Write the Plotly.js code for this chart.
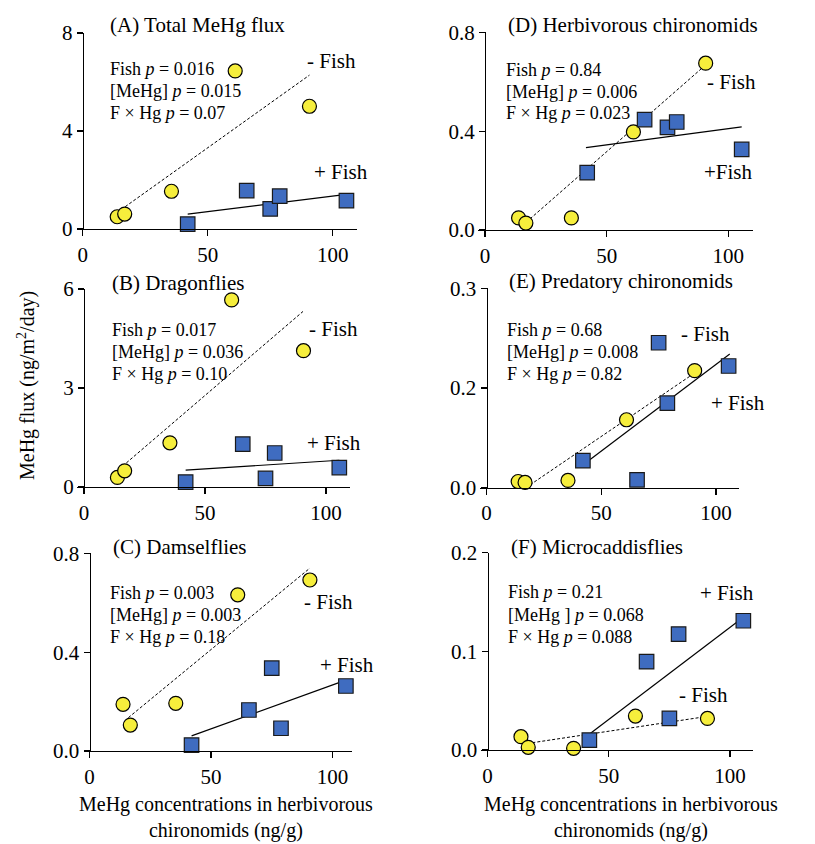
<!DOCTYPE html>
<html>
<head>
<meta charset="utf-8">
<script src="https://cdn.plot.ly/plotly-3.0.1.min.js"></script>
<style>html,body{margin:0;padding:0;background:#fff;}#chart{width:815px;height:844px;}</style>
</head>
<body>
<div id="chart"></div>
<script>
// ---- Data ----
const xNoFish = [13.8, 16.8, 35.5, 61.0, 90.7];   // MeHg in herbivorous chironomids, - Fish
const xFish   = [42.0, 65.6, 75.0, 78.8, 105.5];  // MeHg in herbivorous chironomids, + Fish

const yA_noFish = [0.50, 0.61, 1.54, 6.45, 5.01];
const yA_fish   = [0.20, 1.57, 0.82, 1.34, 1.16];
const fitXA_noFish = [17.0, 90.7], fitYA_noFish = [0.91, 6.28];
const fitXA_fish   = [42.0, 105.5], fitYA_fish  = [0.61, 1.41];

const yB_noFish = [0.29, 0.49, 1.34, 5.67, 4.13];
const yB_fish   = [0.15, 1.30, 0.26, 1.03, 0.59];
const fitXB_noFish = [17.5, 90.5], fitYB_noFish = [0.73, 5.32];
const fitXB_fish   = [42.0, 105.5], fitYB_fish  = [0.51, 0.81];

const yC_noFish = [0.189, 0.105, 0.193, 0.632, 0.692];
const yC_fish   = [0.024, 0.166, 0.335, 0.092, 0.263];
const fitXC_noFish = [16.0, 90.7], fitYC_noFish = [0.135, 0.74];
const fitXC_fish   = [42.0, 105.5], fitYC_fish  = [0.061, 0.287];

const yD_noFish = [0.049, 0.028, 0.049, 0.397, 0.675];
const yD_fish   = [0.232, 0.447, 0.415, 0.437, 0.326];
const fitXD_noFish = [18.5, 90.7], fitYD_noFish = [0.045, 0.668];
const fitXD_fish   = [41.5, 105.5], fitYD_fish  = [0.333, 0.417];

const yE_noFish = [0.009, 0.0076, 0.0106, 0.102, 0.176];
const yE_fish   = [0.0405, 0.0116, 0.218, 0.127, 0.183];
const fitXE_noFish = [19.0, 90.5], fitYE_noFish = [0.004, 0.172];
const fitXE_fish   = [42.0, 106.0], fitYE_fish  = [0.034, 0.201];

const yF_noFish = [0.0135, 0.0027, 0.0017, 0.0344, 0.032];
const yF_fish   = [0.0101, 0.0895, 0.032, 0.1175, 0.131];
const fitXF_noFish = [18.5, 90.5], fitYF_noFish = [0.0074, 0.034];
const fitXF_fish   = [42.5, 105.5], fitYF_fish  = [0.0169, 0.1345];

// tick labels
const xTickVals = [0, 50, 100];
const yTicksA = [0, 4, 8],       yTextA = ["0", "4", "8"];
const yTicksB = [0, 3, 6],       yTextB = ["0", "3", "6"];
const yTicksC = [0, 0.4, 0.8],   yTextC = ["0.0", "0.4", "0.8"];
const yTicksD = [0, 0.4, 0.8],   yTextD = ["0.0", "0.4", "0.8"];
const yTicksE = [0, 0.15, 0.3],  yTextE = ["0.0", "0.2", "0.3"];
const yTicksF = [0, 0.1, 0.2],   yTextF = ["0.0", "0.1", "0.2"];

const titles = ["(A) Total MeHg flux", "(B) Dragonflies", "(C) Damselflies",
                "(D) Herbivorous chironomids", "(E) Predatory chironomids", "(F) Microcaddisflies"];
const statsA = ["Fish <i>p</i> = 0.016", "[MeHg] <i>p</i> = 0.015", "F × Hg <i>p</i> = 0.07"];
const statsB = ["Fish <i>p</i> = 0.017", "[MeHg] <i>p</i> = 0.036", "F × Hg <i>p</i> = 0.10"];
const statsC = ["Fish <i>p</i> = 0.003", "[MeHg] <i>p</i> = 0.003", "F × Hg <i>p</i> = 0.18"];
const statsD = ["Fish <i>p</i> = 0.84", "[MeHg] <i>p</i> = 0.006", "F × Hg <i>p</i> = 0.023"];
const statsE = ["Fish <i>p</i> = 0.68", "[MeHg] <i>p</i> = 0.008", "F × Hg <i>p</i> = 0.82"];
const statsF = ["Fish <i>p</i> = 0.21", "[MeHg ] <i>p</i> = 0.068", "F × Hg <i>p</i> = 0.088"];

// ---- Layout geometry (pixels) ----
const W = 815, H = 844;
const FONT = "'Liberation Serif', 'Times New Roman', Times, serif";
const px = v => v / W, py = v => 1 - v / H;

const panels = [
  {id:"A", yMax:8,   yt:yTicksA, ytx:yTextA, yn:yA_noFish, yf:yA_fish, fxn:fitXA_noFish, fyn:fitYA_noFish, fxf:fitXA_fish, fyf:fitYA_fish, stats:statsA,
   l:77.3, r:357.3, t:33, b:229, x0:82.7, x100:332.7,
   title:[108,25], st:[107.5,69,91,113], minus:[305,61,"- Fish"], plus:[311.5,172,"+ Fish"]},
  {id:"B", yMax:6,   yt:yTicksB, ytx:yTextB, yn:yB_noFish, yf:yB_fish, fxn:fitXB_noFish, fyn:fitYB_noFish, fxf:fitXB_fish, fyf:fitYB_fish, stats:statsB,
   l:77.3, r:350, t:289, b:487, x0:84, x100:326,
   title:[110,283], st:[110,330,351.7,374], minus:[306.5,329,"- Fish"], plus:[305,442.7,"+ Fish"]},
  {id:"C", yMax:0.8, yt:yTicksC, ytx:yTextC, yn:yC_noFish, yf:yC_fish, fxn:fitXC_noFish, fyn:fitYC_noFish, fxf:fitXC_fish, fyf:fitYC_fish, stats:statsC,
   l:84.5, r:352, t:553.3, b:751, x0:89.5, x100:332.5,
   title:[111,546.7], st:[108.3,593.3,615,637.3], minus:[301.7,601.7,"- Fish"], plus:[318.3,665,"+ Fish"]},
  {id:"D", yMax:0.8, yt:yTicksD, ytx:yTextD, yn:yD_noFish, yf:yD_fish, fxn:fitXD_noFish, fyn:fitYD_noFish, fxf:fitXD_fish, fyf:fitYD_fish, stats:statsD,
   l:478.3, r:752.7, t:32.3, b:230, x0:485, x100:728.3,
   title:[506,25], st:[504.3,70,91.7,113.3], minus:[705,82,"- Fish"], plus:[701.7,171.7,"+Fish"]},
  {id:"E", yMax:0.3, yt:yTicksE, ytx:yTextE, yn:yE_noFish, yf:yE_fish, fxn:fitXE_noFish, fyn:fitYE_noFish, fxf:fitXE_fish, fyf:fitYE_fish, stats:statsE,
   l:480, r:738.7, t:288.3, b:487.5, x0:486.5, x100:716,
   title:[506.7,281], st:[505,330,351.7,374], minus:[679.3,334.3,"- Fish"], plus:[709.3,403.3,"+ Fish"]},
  {id:"F", yMax:0.2, yt:yTicksF, ytx:yTextF, yn:yF_noFish, yf:yF_fish, fxn:fitXF_noFish, fyn:fitYF_noFish, fxf:fitXF_fish, fyf:fitYF_fish, stats:statsF,
   l:481, r:752.7, t:552.7, b:750, x0:487.5, x100:730,
   title:[509.3,546.7], st:[506,592.3,615,636.7], minus:[676.7,695,"- Fish"], plus:[697.7,593.3,"+ Fish"]}
];
const titleIdx = {A:0,B:1,C:2,D:3,E:4,F:5};

const data = [];
const layout = {
  width: W, height: H,
  margin: {l:0, r:0, t:0, b:0},
  paper_bgcolor: "#fff", plot_bgcolor: "rgba(0,0,0,0)",
  showlegend: false,
  font: {family: FONT, color: "#000", size: 21},
  annotations: []
};

const yellow = "#F6EE3C", blue = "#3F6CC0";

panels.forEach((p, i) => {
  const n = i + 1;
  const xa = "x" + (n === 1 ? "" : n), ya = "y" + (n === 1 ? "" : n);
  const xk = "xaxis" + (n === 1 ? "" : n), yk = "yaxis" + (n === 1 ? "" : n);
  const sc = (p.x100 - p.x0) / 100;
  const xr = [(p.l - p.x0) / sc, (p.r - p.x0) / sc];
  layout[xk] = {
    domain: [px(p.l), px(p.r)], range: xr, anchor: ya,
    showline: true, linecolor: "#000", linewidth: 1.3,
    ticks: "outside", ticklen: 6, tickwidth: 1.3, tickcolor: "#000",
    tickvals: xTickVals, ticktext: xTickVals.map(String),
    showgrid: false, zeroline: false, fixedrange: true,
    tickfont: {family: FONT, size: 21, color: "#000"}
  };
  layout[yk] = {
    domain: [py(p.b), py(p.t)], range: [0, p.yMax], anchor: "free", position: px(p.x0),
    showline: true, linecolor: "#000", linewidth: 1.3,
    ticks: "outside", ticklen: 6, tickwidth: 1.3, tickcolor: "#000",
    tickvals: p.yt, ticktext: p.ytx,
    showgrid: false, zeroline: false, fixedrange: true,
    tickfont: {family: FONT, size: 21, color: "#000"}
  };
  // regression lines
  data.push({type:"scatter", mode:"lines", x:p.fxn, y:p.fyn, xaxis:xa, yaxis:ya,
             line:{color:"#000", width:1, dash:"3px,2px"}, hoverinfo:"skip"});
  data.push({type:"scatter", mode:"lines", x:p.fxf, y:p.fyf, xaxis:xa, yaxis:ya,
             line:{color:"#000", width:1.2}, hoverinfo:"skip"});
  // points
  data.push({type:"scatter", mode:"markers", x:xNoFish, y:p.yn, xaxis:xa, yaxis:ya, cliponaxis:false,
             marker:{symbol:"circle", size:14, color:yellow, line:{color:"#000", width:1.2}}});
  data.push({type:"scatter", mode:"markers", x:xFish, y:p.yf, xaxis:xa, yaxis:ya, cliponaxis:false,
             marker:{symbol:"square", size:14.5, color:blue, line:{color:"#1a1a1a", width:1.2}}});
  // text annotations
  const ann = (x, y, text, size) => layout.annotations.push({
    xref:"paper", yref:"paper", x:px(x), y:py(y), xanchor:"left", yanchor:"middle",
    text:text, showarrow:false, font:{family:FONT, size:size, color:"#000"}
  });
  ann(p.title[0], p.title[1], titles[titleIdx[p.id]], 21);
  ann(p.st[0], p.st[1], p.stats[0], 18);
  ann(p.st[0], p.st[2], p.stats[1], 18);
  ann(p.st[0], p.st[3], p.stats[2], 18);
  ann(p.minus[0], p.minus[1], p.minus[2], 21);
  ann(p.plus[0], p.plus[1], p.plus[2], 21);
});

// axis titles
layout.annotations.push({xref:"paper", yref:"paper", x:px(26), y:py(386), xanchor:"center", yanchor:"middle",
  textangle:-90, showarrow:false, text:"MeHg flux (ng/m<sup>2</sup>/day)", font:{family:FONT, size:20, color:"#000"}});
[226, 631].forEach(cx => layout.annotations.push({xref:"paper", yref:"paper", x:px(cx), y:py(817), xanchor:"center", yanchor:"middle",
  showarrow:false, text:"MeHg concentrations in herbivorous<br>chironomids (ng/g)", align:"center",
  font:{family:FONT, size:20, color:"#000"}}));

Plotly.newPlot("chart", data, layout, {displayModeBar:false, staticPlot:true});
</script>
</body>
</html>
